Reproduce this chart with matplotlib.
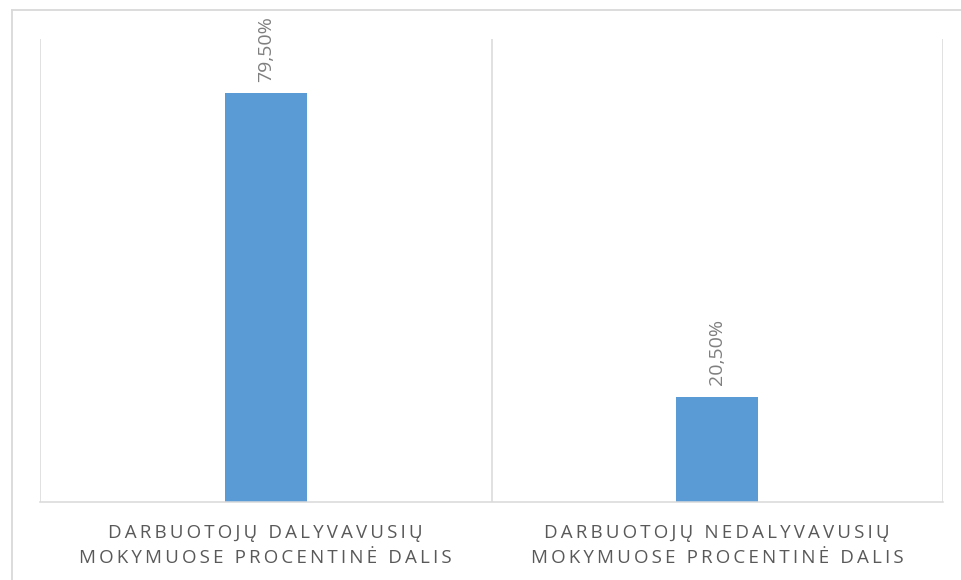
import matplotlib.pyplot as plt
from matplotlib.lines import Line2D

# data
categories = [
    "DARBUOTOJŲ DALYVAVUSIŲ\nMOKYMUOSE PROCENTINĖ DALIS",
    "DARBUOTOJŲ NEDALYVAVUSIŲ\nMOKYMUOSE PROCENTINĖ DALIS",
]
values = [79.5, 20.5]
value_labels = ["79,50%", "20,50%"]

BAR_COLOR = "#5B9BD5"
GRID_COLOR = "#D9D9D9"


def spaced(text, gap="\u2009"):
    # imitate Excel's letter spacing on axis labels
    return "\n".join(gap.join(line) for line in text.split("\n"))


plt.rcParams["font.family"] = ["Open Sans", "DejaVu Sans"]

fig = plt.figure(figsize=(9.61, 5.80), dpi=100)
ax = fig.add_axes([40 / 961, 78 / 580, 903 / 961, 463 / 580])

x = list(range(len(categories)))
bars = ax.bar(x, values, width=0.182, color=BAR_COLOR, zorder=3)

for rect, lab in zip(bars, value_labels):
    ax.annotate(
        lab,
        (rect.get_x() + rect.get_width() / 2, rect.get_height()),
        xytext=(0, 8),
        textcoords="offset points",
        rotation=90,
        ha="center",
        va="bottom",
        fontsize=14,
        color="#7F7F7F",
    )

ax.set_xlim(-0.5, len(categories) - 0.5)
ax.set_ylim(0, 90)
ax.set_yticks([])
ax.set_xticks(x)
ax.set_xticklabels([spaced(c) for c in categories], fontsize=13.5, color="#595959",
                   linespacing=1.45)
ax.tick_params(axis="x", length=0, pad=16)

# category separators as vertical gridlines
ax.set_xticks([i - 0.5 for i in range(len(categories) + 1)], minor=True)
ax.tick_params(axis="x", which="minor", length=0)
ax.grid(which="minor", axis="x", color=GRID_COLOR, linewidth=1.1, zorder=0)

for s in ["top", "left", "right"]:
    ax.spines[s].set_visible(False)
ax.spines["bottom"].set_color(GRID_COLOR)
ax.spines["bottom"].set_linewidth(1.1)
ax.spines["bottom"].set_zorder(4)

# outer chart frame: only left and top edges are visible
fl, ft = 11.5 / 961, 1 - 9.5 / 580
fig.add_artist(Line2D([fl, fl], [0, ft], transform=fig.transFigure,
                      color=GRID_COLOR, linewidth=1.3))
fig.add_artist(Line2D([fl, 1], [ft, ft], transform=fig.transFigure,
                      color=GRID_COLOR, linewidth=1.3))

fig.savefig("out.png", dpi=100)
